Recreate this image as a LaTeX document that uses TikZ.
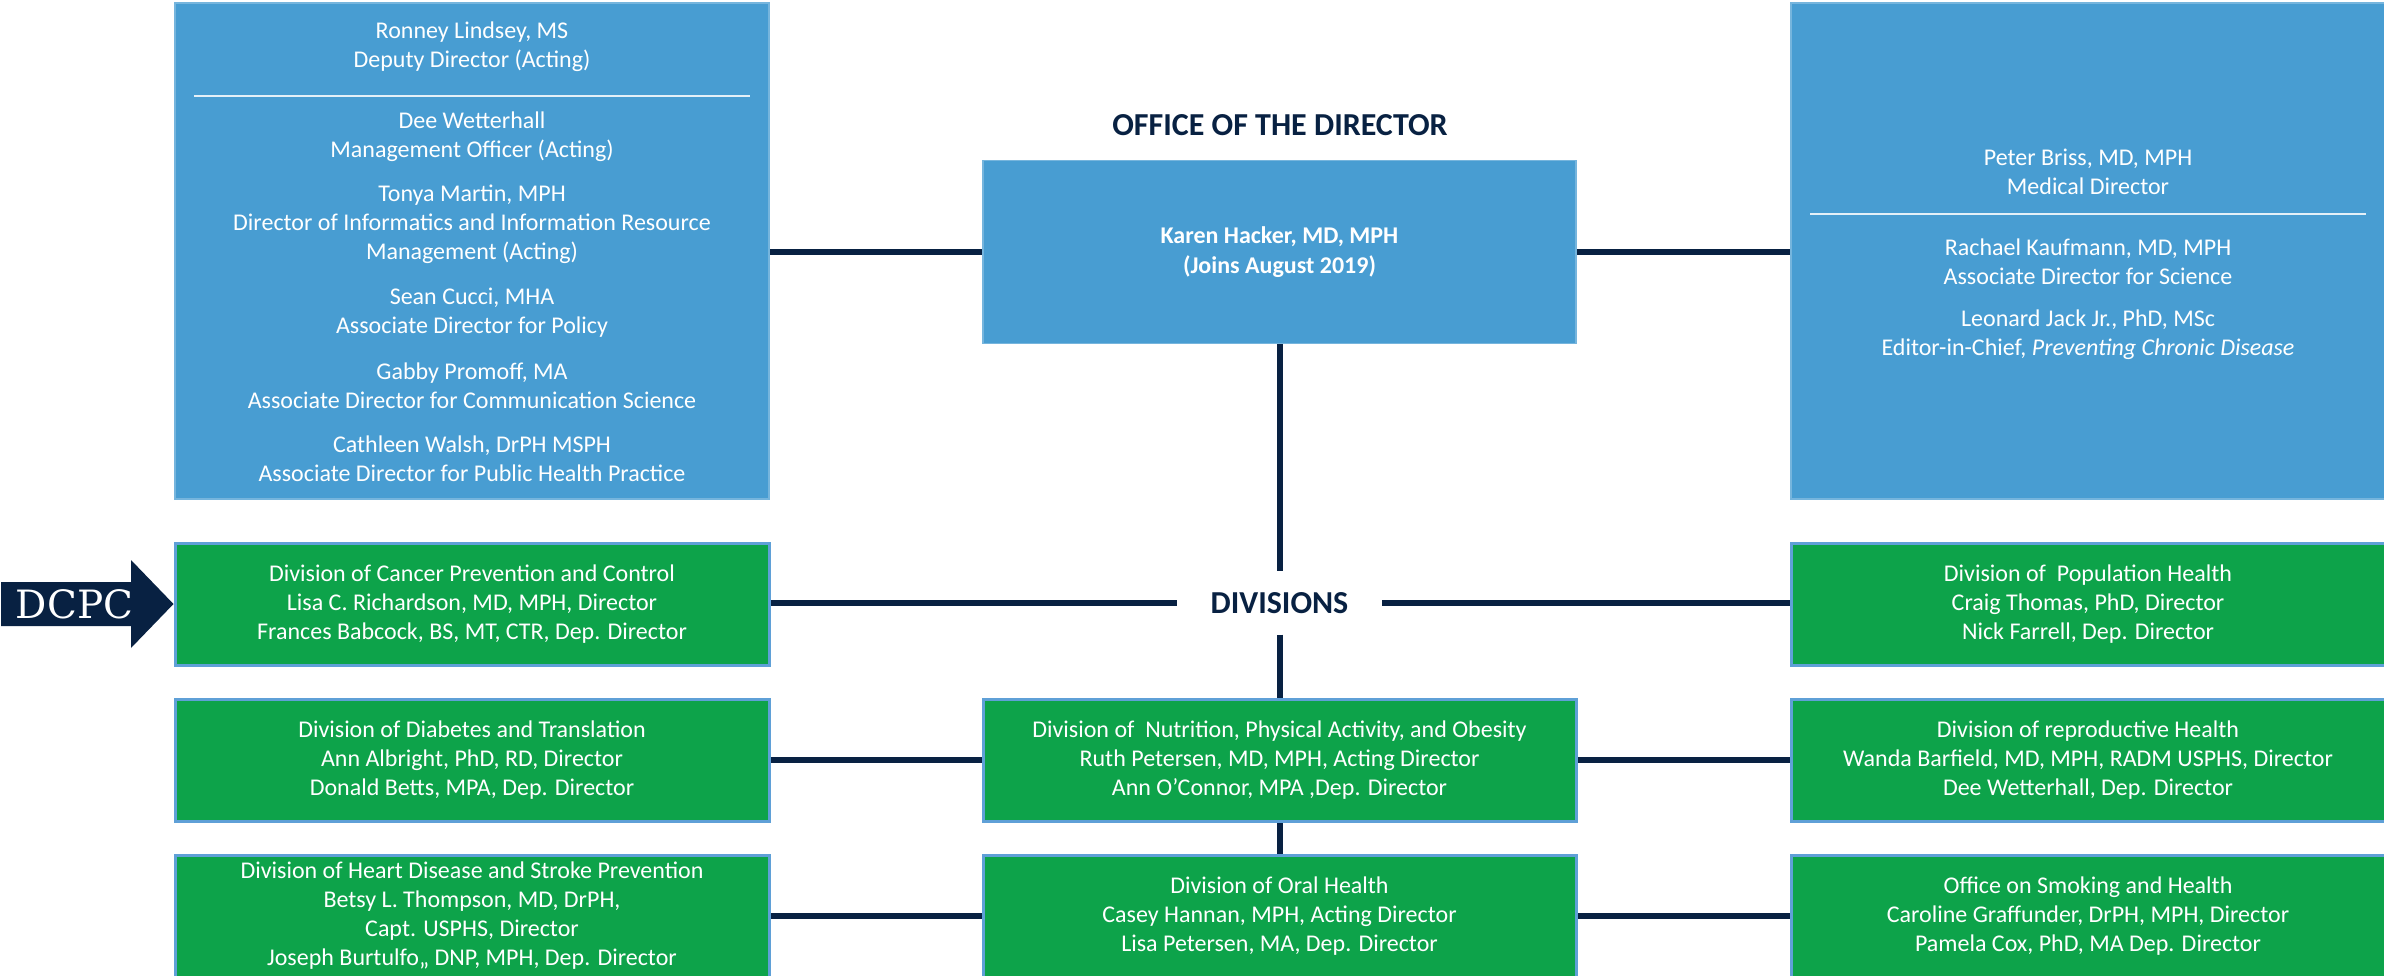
\documentclass[tikz,border=0pt]{standalone}
\usepackage{fontspec}
\setmainfont{Carlito}
\newfontfamily\dcpcfont{DejaVu Serif}
\usetikzlibrary{calc,backgrounds}
\definecolor{cdcblue}{RGB}{72,157,210}
\definecolor{cdcgreen}{RGB}{13,163,74}
\definecolor{edgeblue}{RGB}{95,160,215}
\definecolor{navy}{RGB}{8,33,66}

\begin{document}
\begin{tikzpicture}[x=1pt,y=-1pt,
  bluebox/.style={fill=cdcblue, draw=cdcblue!75!white, line width=1.5pt, inner sep=0pt},
  greenbox/.style={fill=cdcgreen, draw=edgeblue, line width=3pt,
    minimum width=594pt, minimum height=122pt, inner sep=0pt,
    text=white, align=center, font=\fontsize{24}{29}\selectfont},
  txt/.style={text=white, align=center, font=\fontsize{24}{29}\selectfont, inner sep=0pt},
  link/.style={draw=navy, line width=6pt},
  heading/.style={text=navy, font=\bfseries\fontsize{32}{36}\selectfont, inner sep=0pt},
  rule/.style={draw=white!85!cdcblue, line width=1.5pt}
]
\useasboundingbox (0,0) rectangle (2384,976);

% Office of the Director
\node[heading] (odtitle) at (1280,125) {OFFICE OF THE DIRECTOR};
\node[bluebox, minimum width=594pt, minimum height=496pt] (lbox) at (472,251) {};
\node[bluebox, minimum width=593pt, minimum height=183pt, txt,
      font=\bfseries\fontsize{24}{30}\selectfont] (dir) at (1279.5,252)
      {Karen Hacker, MD, MPH\\(Joins August 2019)};
\node[bluebox, minimum width=594pt, minimum height=496pt] (rbox) at (2088,251) {};

% staff listed in the left office box
\draw[rule] (194,96) -- (750,96);
\node[txt] (ronney) at (472,47) {Ronney Lindsey, MS\\Deputy Director (Acting)};
\node[txt] (dee) at (472,136.5) {Dee Wetterhall\\Management Officer (Acting)};
\node[txt] (tonya) at (472,224.5) {Tonya Martin, MPH\\Director of Informatics and Information Resource\\Management (Acting)};
\node[txt] (sean) at (472,312.5) {Sean Cucci, MHA\\Associate Director for Policy};
\node[txt] (gabby) at (472,386) {Gabby Promoff, MA\\Associate Director for Communication Science};
\node[txt] (cathleen) at (472,459) {Cathleen Walsh, DrPH MSPH\\Associate Director for Public Health Practice};

% staff listed in the right office box
\draw[rule] (1810,214) -- (2366,214);
\node[txt] (peter) at (2088,171.5) {Peter Briss, MD, MPH\\Medical Director};
\node[txt] (rachael) at (2088,261.5) {Rachael Kaufmann, MD, MPH\\Associate Director for Science};
\node[txt] (leonard) at (2088,334.5) {Leonard Jack Jr., PhD, MSc\\Editor-in-Chief, \textit{Preventing Chronic Disease}};

% Divisions
\node[heading, minimum width=205pt, minimum height=63pt] (divs) at (1279.5,603) {DIVISIONS};

\node[greenbox] (cancer) at (472,604)
  {Division of Cancer Prevention and Control\\Lisa C. Richardson, MD, MPH, Director\\Frances Babcock, BS, MT, CTR, Dep. Director};
\node[greenbox] (pop) at (2088,604)
  {Division of\ \ Population Health\\Craig Thomas, PhD, Director\\Nick Farrell, Dep. Director};

\node[greenbox] (diab) at (472,760)
  {Division of Diabetes and Translation\\Ann Albright, PhD, RD, Director\\Donald Betts, MPA, Dep. Director};
\node[greenbox, minimum width=593pt] (nut) at (1279.5,760)
  {Division of\ \ Nutrition, Physical Activity, and Obesity\\Ruth Petersen, MD, MPH, Acting Director\\Ann O’Connor, MPA ,Dep. Director};
\node[greenbox] (repro) at (2088,760)
  {Division of reproductive Health\\Wanda Barfield, MD, MPH, RADM USPHS, Director\\Dee Wetterhall, Dep. Director};

\node[greenbox] (heart) at (472,916)
  {Division of Heart Disease and Stroke Prevention\\Betsy L. Thompson, MD, DrPH,\\Capt. USPHS, Director\\Joseph Burtulfo,, DNP, MPH, Dep. Director};
\node[greenbox, minimum width=593pt] (oral) at (1279.5,916)
  {Division of Oral Health\\Casey Hannan, MPH, Acting Director\\Lisa Petersen, MA, Dep. Director};
\node[greenbox] (smoke) at (2088,916)
  {Office on Smoking and Health\\Caroline Graffunder, DrPH, MPH, Director\\Pamela Cox, PhD, MA Dep. Director};

% DCPC pointer
\fill[navy] (1,582) -- (131,582) -- (131,560) -- (cancer.west) -- (131,648) -- (131,626) -- (1,626) -- cycle;
\node[text=white, font=\dcpcfont\fontsize{39}{40}\selectfont, inner sep=0pt] (dcpc) at (74.5,604) {DCPC};

% connectors, behind the boxes
\begin{scope}[on background layer]
  \fill[white] (0,0) rectangle (2384,976);
  \draw[link] (dir.west) -- (dir.west -| lbox.east);
  \draw[link] (dir.east) -- (dir.east -| rbox.west);
  \draw[link] (dir.south) -- (divs.north);
  \draw[link] (divs.south) -- (nut.north);
  \draw[link] (divs.west) -- (divs.west -| cancer.east);
  \draw[link] (divs.east) -- (divs.east -| pop.west);
  \draw[link] (diab.east) -- (nut.west);
  \draw[link] (nut.east) -- (repro.west);
  \draw[link] (nut.south) -- (oral.north);
  \draw[link] (heart.east) -- (heart.east -| oral.west);
  \draw[link] (oral.east) -- (smoke.west);
\end{scope}
\end{tikzpicture}
\end{document}
